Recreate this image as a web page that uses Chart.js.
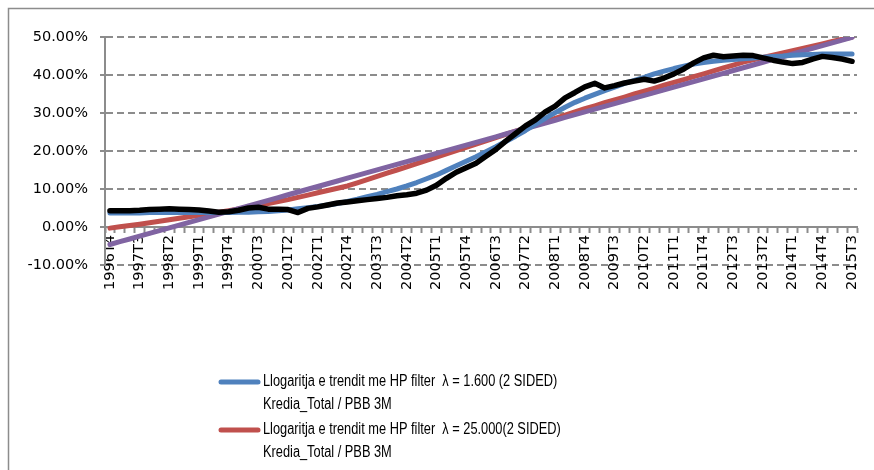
<!DOCTYPE html>
<html>
<head>
<meta charset="utf-8">
<script src="https://cdn.jsdelivr.net/npm/chart.js@4.4.1/dist/chart.umd.min.js"></script>
<style>
  html, body { margin: 0; padding: 0; background: #fff; }
  #wrap { width: 874px; height: 470px; }
</style>
</head>
<body>
<div id="wrap"><canvas id="myChart" width="874" height="470"></canvas></div>
<script>
// quarters 1996T4 .. 2015T3
const quarters = [
  '1996T4',
  '1997T1','1997T2','1997T3','1997T4','1998T1','1998T2','1998T3','1998T4',
  '1999T1','1999T2','1999T3','1999T4','2000T1','2000T2','2000T3','2000T4',
  '2001T1','2001T2','2001T3','2001T4','2002T1','2002T2','2002T3','2002T4',
  '2003T1','2003T2','2003T3','2003T4','2004T1','2004T2','2004T3','2004T4',
  '2005T1','2005T2','2005T3','2005T4','2006T1','2006T2','2006T3','2006T4',
  '2007T1','2007T2','2007T3','2007T4','2008T1','2008T2','2008T3','2008T4',
  '2009T1','2009T2','2009T3','2009T4','2010T1','2010T2','2010T3','2010T4',
  '2011T1','2011T2','2011T3','2011T4','2012T1','2012T2','2012T3','2012T4',
  '2013T1','2013T2','2013T3','2013T4','2014T1','2014T2','2014T3','2014T4',
  '2015T1','2015T2','2015T3'
];

// Kredia_Total / PBB (%)
const kredia = [
  4.3, 4.3, 4.3, 4.4, 4.6, 4.7, 4.8, 4.7, 4.6, 4.5,
  4.2, 3.9, 4.0, 4.4, 5.0, 5.2, 4.7, 4.7, 4.6, 3.8,
  4.9, 5.3, 5.8, 6.3, 6.6, 6.9, 7.2, 7.5, 7.8, 8.2,
  8.5, 8.9, 9.7, 11.0, 12.8, 14.4, 15.6, 16.8, 18.6, 20.4,
  22.6, 24.6, 26.6, 28.2, 30.3, 31.8, 34.0, 35.4, 36.9, 37.8,
  36.6, 37.2, 37.9, 38.4, 38.9, 38.4, 39.2, 40.3, 41.6, 43.2,
  44.5, 45.2, 44.8, 45.0, 45.2, 45.1, 44.5, 43.9, 43.4, 43.0,
  43.3, 44.2, 44.9, 44.6, 44.2, 43.6
];

// HP filter lambda = 1.600
const hp1600 = [
  3.7, 3.7, 3.7, 3.7, 3.8, 3.8, 3.8, 3.8, 3.8, 3.8,
  3.8, 3.8, 3.8, 3.9, 3.9, 4.0,
  4.1, 4.3, 4.5, 4.8, 5.1, 5.4, 5.8, 6.2, 6.7, 7.3,
  8.0, 8.6, 9.3, 10.0, 10.8, 11.7, 12.7, 13.7, 14.9, 16.1,
  17.3, 18.5, 19.8, 21.1, 22.5, 23.9, 25.4, 27.0, 28.6, 30.1,
  31.5, 32.8, 33.9, 34.9, 35.9, 36.8, 37.8, 38.6, 39.4, 40.3,
  41.0, 41.7, 42.3, 42.9, 43.3, 43.6, 43.9, 44.1, 44.3, 44.5,
  44.7, 44.9, 45.0, 45.2, 45.3, 45.4, 45.5, 45.5, 45.5, 45.5
];

// HP filter lambda = 25.000
const hp25000 = [
  -0.3, 0.05, 0.4, 0.75, 1.1, 1.5, 1.9, 2.3, 2.7, 3.1, 3.5, 3.9, 4.3,
  4.75, 5.2, 5.7, 6.2, 6.7, 7.2, 7.8, 8.4, 9.0, 9.6, 10.2, 10.8,
  11.6, 12.45, 13.3, 14.15, 15.0, 15.85, 16.7, 17.55, 18.4, 19.25, 20.1, 20.95,
  21.8, 22.65, 23.5, 24.35, 25.2, 26.05, 26.9, 27.75, 28.6, 29.45, 30.3, 31.15,
  31.9, 32.7, 33.45, 34.2, 35.0, 35.75, 36.5, 37.3, 38.05, 38.8, 39.55, 40.3,
  41.1, 41.85, 42.6, 43.4,
  44.0, 44.6, 45.2, 45.8, 46.4, 47.0, 47.6, 48.2, 48.8, 49.4, 50.0
];

// third trend (near-linear)
const hpLinear = [
  -4.60, -3.87, -3.15, -2.42, -1.69, -0.97, -0.24, 0.49, 1.21, 1.94,
  2.67, 3.39, 4.12, 4.85, 5.57, 6.30, 7.03, 7.75, 8.48, 9.21,
  9.93, 10.66, 11.39, 12.11, 12.84, 13.57, 14.29, 15.02, 15.75, 16.47,
  17.20, 17.93, 18.65, 19.38, 20.11, 20.83, 21.56, 22.29, 23.01, 23.74,
  24.47, 25.19, 25.92, 26.65, 27.37, 28.10, 28.83, 29.55, 30.28, 31.01,
  31.73, 32.46, 33.19, 33.91, 34.64, 35.37, 36.09, 36.82, 37.55, 38.27,
  39.00, 39.73, 40.45, 41.18, 41.91, 42.63, 43.36, 44.09, 44.81, 45.54,
  46.27, 46.99, 47.72, 48.45, 49.17, 49.90
];

const yTicks = [-10, 0, 10, 20, 30, 40, 50];

const legendLabels = [
  { color: '#4F81BD', lines: ['Llogaritja e trendit me HP filter  \u03BB = 1.600 (2 SIDED)', 'Kredia_Total / PBB 3M'] },
  { color: '#C0504D', lines: ['Llogaritja e trendit me HP filter  \u03BB = 25.000(2 SIDED)', 'Kredia_Total / PBB 3M'] }
];

// white background + outer chart frame
const framePlugin = {
  id: 'frame',
  beforeDraw(chart) {
    const ctx = chart.ctx;
    ctx.save();
    ctx.fillStyle = '#fff';
    ctx.fillRect(0, 0, chart.width, chart.height);
    ctx.strokeStyle = '#8c8c8c';
    ctx.lineWidth = 1.5;
    ctx.strokeRect(8.5, 8.5, chart.width + 20, chart.height + 20);
    ctx.restore();
  }
};

// two-line legend entries under the plot (text squeezed to look like a narrow font)
const legendPlugin = {
  id: 'twoLineLegend',
  afterDraw(chart) {
    const ctx = chart.ctx;
    ctx.save();
    legendLabels.forEach((item, k) => {
      const y = 382 + k * 48;
      ctx.strokeStyle = item.color;
      ctx.lineWidth = 5;
      ctx.lineCap = 'round';
      ctx.beginPath();
      ctx.moveTo(221, y);
      ctx.lineTo(258, y);
      ctx.stroke();
      ctx.fillStyle = '#000';
      ctx.font = '16px "Liberation Sans", sans-serif';
      ctx.textBaseline = 'middle';
      ctx.textAlign = 'left';
      item.lines.forEach((t, j) => {
        ctx.save();
        ctx.translate(263, y + j * 23);
        ctx.scale(0.8, 1);
        ctx.fillText(t, 0, 0);
        ctx.restore();
      });
    });
    ctx.restore();
  }
};

const lineStyle = {
  borderWidth: 5,
  pointRadius: 0,
  pointHoverRadius: 0,
  tension: 0,
  fill: false,
  borderCapStyle: 'round',
  borderJoinStyle: 'round'
};

const tickFont = { family: '"DejaVu Sans", sans-serif', size: 14.5 };

new Chart(document.getElementById('myChart'), {
  type: 'line',
  data: {
    labels: quarters,
    datasets: [
      { ...lineStyle, label: 'Kredia_Total / PBB', data: kredia, borderColor: '#000000', borderWidth: 5.5, order: 1 },
      { ...lineStyle, label: legendLabels[0].lines.join(' '), data: hp1600, borderColor: '#4F81BD', order: 2 },
      { ...lineStyle, label: 'trend', data: hpLinear, borderColor: '#8064A2', order: 3 },
      { ...lineStyle, label: legendLabels[1].lines.join(' '), data: hp25000, borderColor: '#C0504D', order: 4 }
    ]
  },
  options: {
    responsive: false,
    animation: false,
    devicePixelRatio: 1,
    layout: { padding: { left: 0, top: 37, right: 17, bottom: 205 } },
    plugins: { legend: { display: false }, tooltip: { enabled: false } },
    scales: {
      x: {
        position: { y: 0 },
        offset: true,
        grid: { display: true, drawOnChartArea: false, drawTicks: true, tickLength: 5, tickWidth: 2, tickColor: '#8c8c8c', offset: true },
        border: { display: true, color: '#8c8c8c', width: 2 },
        ticks: {
          autoSkip: false,
          minRotation: 90,
          maxRotation: 90,
          padding: 3,
          color: '#000',
          font: tickFont,
          callback: function (v, i) { return i % 3 === 0 ? quarters[i] : ''; }
        }
      },
      y: {
        min: yTicks[0],
        max: yTicks[yTicks.length - 1],
        afterFit: function (scale) { scale.width = 105; },
        afterBuildTicks: function (scale) { scale.ticks = yTicks.map(v => ({ value: v })); },
        grid: { color: '#8c8c8c', lineWidth: 2, tickLength: 5, tickColor: '#8c8c8c', tickWidth: 2 },
        border: { display: true, color: '#8c8c8c', width: 2, dash: [7, 4] },
        ticks: {
          padding: 12,
          color: '#000',
          font: tickFont,
          callback: function (v) { return v.toFixed(2) + '%'; }
        }
      }
    }
  },
  plugins: [framePlugin, legendPlugin]
});
</script>
</body>
</html>
